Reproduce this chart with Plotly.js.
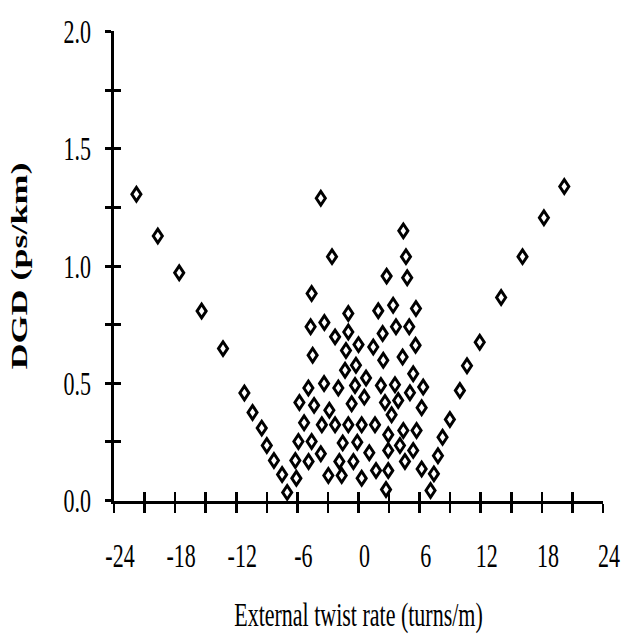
<!DOCTYPE html>
<html>
<head>
<meta charset="utf-8">
<script src="https://cdn.plot.ly/plotly-3.0.1.min.js"></script>
<style>
  html, body { margin: 0; padding: 0; background: #ffffff; overflow: hidden; }
  #wrap { width: 625px; height: 634px; overflow: hidden; }
  #chart { width: 625px; height: 423px; transform-origin: 0 0; transform: scaleY(1.4988); }
</style>
</head>
<body>
<div id="wrap"><div id="chart"></div></div>
<script>
// External twist rate (turns/m) and DGD (ps/km)
const twistRate = [
  -21.8, -19.7, -17.6, -15.4, -13.3, -11.2, -10.4, -9.5, -9.0, -8.3, -7.5, -7.0,
  20.2, 18.2, 16.1, 14.0, 11.9, 10.65, 9.95, 8.97, 8.25, 7.8, 7.4, 7.07,
  -3.7, 4.4, -2.6, 4.66, 2.76, 4.78, -4.6, 3.4, 1.94, -1.0, 5.64, -4.7, -3.35, -1.0,
  2.37, 3.68, 4.98, -2.3, 0.0, 1.45, 5.6, -4.5, -1.23, 2.43, 4.33, -1.32, -0.25, 5.37,
  -3.38, -4.92, -1.98, -0.34, 0.74, 2.2, 3.58, 5.05, 6.35, -5.8, -4.36, -2.86, -0.67,
  0.57, 2.6, 3.9, 6.2, 3.25, -5.34, -3.6, -2.3, -1.0, 0.31, 1.62, 4.4, 5.7, -5.9, -4.6,
  -1.55, -0.12, 2.92, 2.92, 4.07, 5.37, -6.2, -4.9, -3.7, -1.88, -0.5, 1.06, 4.56, 6.2,
  -6.1, -2.96, -1.65, 0.31, 1.72, 2.92, 2.7
];
const dgd = [
  1.306, 1.128, 0.971, 0.808, 0.648, 0.459, 0.376, 0.309, 0.235, 0.171, 0.111, 0.035,
  1.339, 1.206, 1.04, 0.866, 0.675, 0.575, 0.469, 0.346, 0.27, 0.191, 0.114, 0.043,
  1.289, 1.15, 1.04, 1.04, 0.957, 0.95, 0.883, 0.833, 0.809, 0.798, 0.819, 0.741, 0.759, 0.719,
  0.712, 0.741, 0.741, 0.698, 0.665, 0.655, 0.662, 0.62, 0.64, 0.598, 0.612, 0.556, 0.577, 0.541,
  0.499, 0.48, 0.48, 0.491, 0.523, 0.491, 0.494, 0.46, 0.484, 0.418, 0.406, 0.385, 0.413,
  0.441, 0.418, 0.427, 0.396, 0.366, 0.332, 0.323, 0.323, 0.323, 0.323, 0.323, 0.299, 0.299, 0.252, 0.252,
  0.246, 0.249, 0.281, 0.214, 0.235, 0.214, 0.171, 0.167, 0.2, 0.167, 0.167, 0.204, 0.167, 0.135,
  0.095, 0.107, 0.107, 0.095, 0.128, 0.128, 0.047
];
const xTickVals = [-24, -21, -18, -15, -12, -9, -6, -3, 0, 3, 6, 9, 12, 15, 18, 21, 24];
const xTickText = ['-24', '', '-18', '', '-12', '', '-6', '', '0', '', '6', '', '12', '', '18', '', '24'];
const yTickVals = [0, 0.25, 0.5, 0.75, 1.0, 1.25, 1.5, 1.75, 2.0];
const yTickText = ['0.0', '', '0.5', '', '1.0', '', '1.5', '', '2.0'];
const xTitle = 'External twist rate (turns/m)';
const yTitle = '<b>DGD (ps/km)</b>';

const serif = 'Liberation Serif, Times New Roman, serif';

const traces = [
  {
    type: 'scatter', mode: 'markers', x: twistRate, y: dgd,
    marker: { symbol: 'diamond-open', size: 7, color: '#000000', line: { width: 2.5, color: '#000000' } },
    cliponaxis: false, showlegend: false, hoverinfo: 'x+y'
  },
  { type: 'scatter', mode: 'markers', x: [], y: [], xaxis: 'x2', yaxis: 'y2', showlegend: false, hoverinfo: 'skip' }
];

const axisCommon = { showgrid: false, zeroline: false, tickcolor: '#000000', fixedrange: true };

const layout = {
  width: 625, height: 423,
  margin: { l: 113.5, r: 21.5, t: 21.3, b: 89.4, pad: 0 },
  paper_bgcolor: '#ffffff', plot_bgcolor: '#ffffff',
  showlegend: false,
  font: { family: serif, color: '#000000' },
  xaxis: Object.assign({}, axisCommon, {
    range: [-24, 24], tickmode: 'array', tickvals: xTickVals, ticktext: xTickText,
    ticks: 'outside', ticklen: 5.5, tickwidth: 2.6,
    showline: true, linewidth: 2.6, linecolor: '#000000',
    tickfont: { family: serif, size: 22, color: '#000000' },
    ticklabelshift: 6, ticklabelstandoff: 10,
    title: { text: xTitle, font: { family: serif, size: 22, color: '#000000' }, standoff: 24 }
  }),
  yaxis: Object.assign({}, axisCommon, {
    range: [0, 2], tickmode: 'array', tickvals: yTickVals, ticktext: yTickText,
    ticks: 'outside', ticklen: 6.5, tickwidth: 2,
    showline: true, linewidth: 3, linecolor: '#000000',
    tickfont: { family: serif, size: 22, color: '#000000' },
    ticklabelshift: -5.5, ticklabelstandoff: 9,
    title: { text: yTitle, font: { family: serif, size: 24, color: '#000000' }, standoff: 30 }
  }),
  xaxis2: Object.assign({}, axisCommon, {
    overlaying: 'x', anchor: 'y2', side: 'bottom', range: [-24, 24],
    tickmode: 'array', tickvals: xTickVals, showticklabels: false,
    ticks: 'inside', ticklen: 5.5, tickwidth: 2.6, showline: false
  }),
  yaxis2: Object.assign({}, axisCommon, {
    overlaying: 'y', anchor: 'x2', side: 'left', range: [0, 2],
    tickmode: 'array', tickvals: yTickVals, showticklabels: false,
    ticks: 'inside', ticklen: 6.5, tickwidth: 2, showline: false
  })
};

Plotly.newPlot('chart', traces, layout, { displayModeBar: false, staticPlot: true });
</script>
</body>
</html>
